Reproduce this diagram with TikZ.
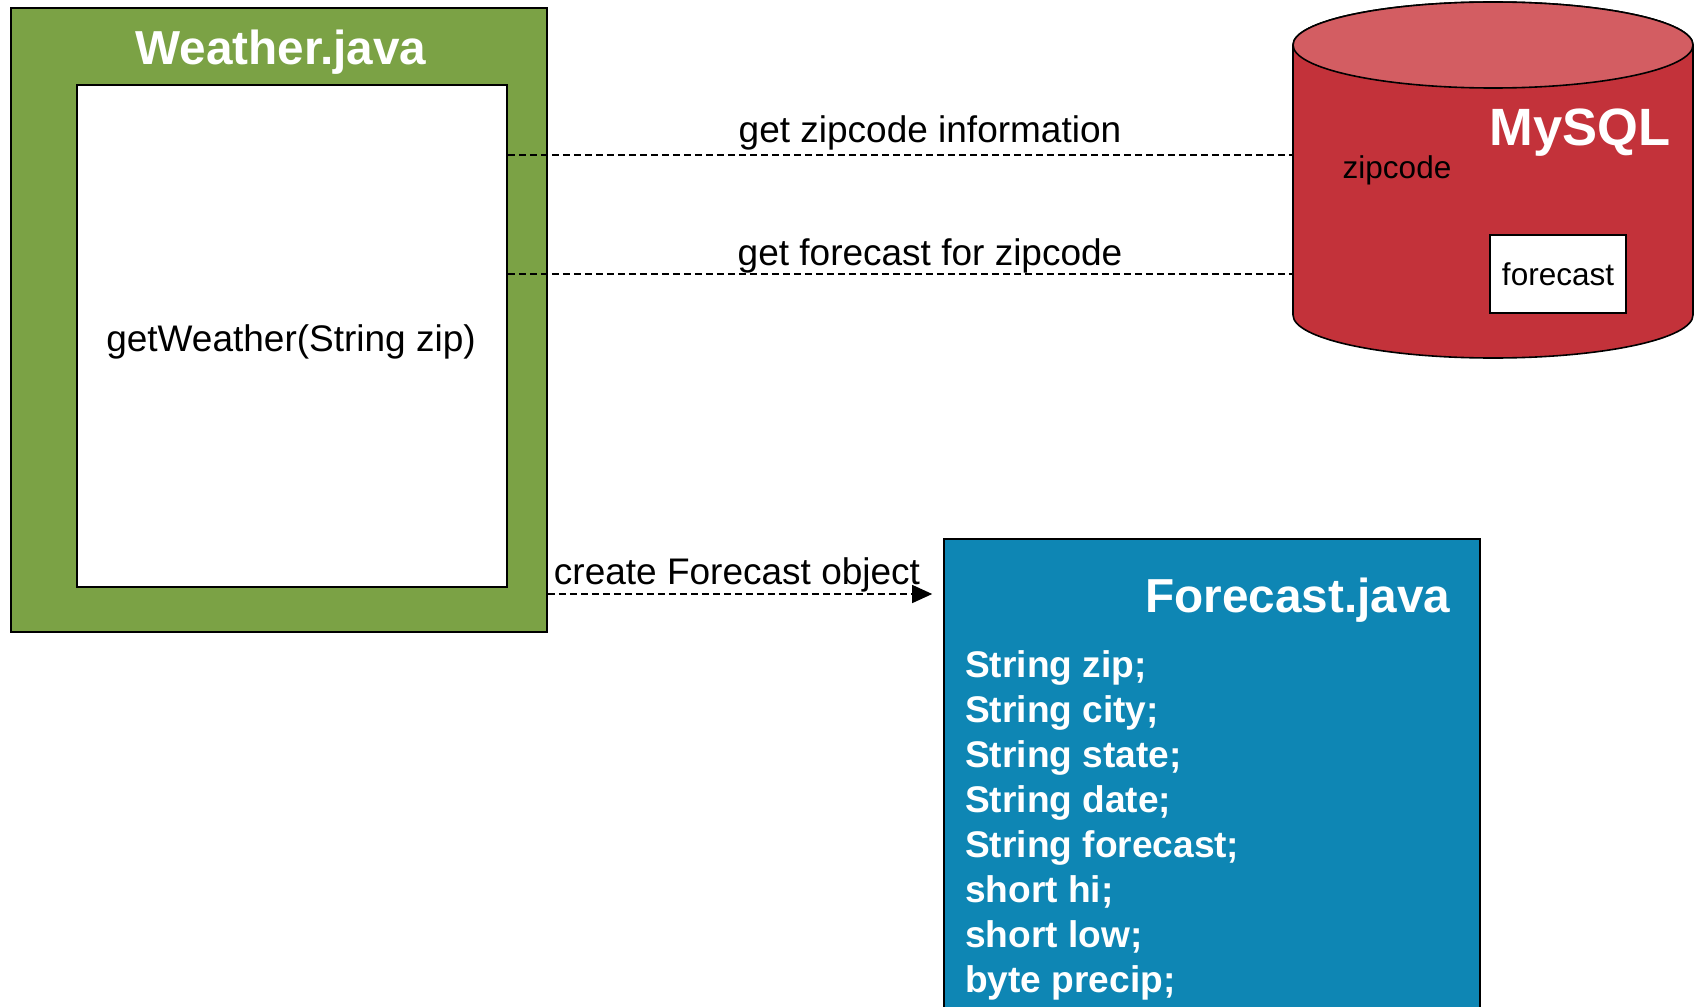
\documentclass[tikz,border=0pt]{standalone}
\usepackage{fontspec}
\setmainfont{Liberation Sans}
\usetikzlibrary{arrows.meta}
\definecolor{javagreen}{RGB}{123,162,69}
\definecolor{dbred}{RGB}{195,50,58}
\definecolor{dbtop}{RGB}{211,93,98}
\definecolor{javablue}{RGB}{14,134,180}

\begin{document}
\begin{tikzpicture}[
    x=1pt, y=1pt,
    classbox/.style={rectangle, draw, line width=1.6pt, inner sep=0pt},
    classtitle/.style={text=white, font=\fontsize{47.7}{57}\selectfont\bfseries},
    msg/.style={font=\fontsize{37}{44}\selectfont},
    field/.style={anchor=base west, text=white, inner sep=0pt, font=\fontsize{37.1}{45}\selectfont\bfseries},
    dbtext/.style={font=\fontsize{31.5}{38}\selectfont},
    call/.style={dash pattern=on 7pt off 4pt, line width=1.3pt},
    arrow/.style={call, -{Triangle[length=20pt, width=18pt]}}
]

% page
\clip (0,0) rectangle (1696,-1006);

% Weather.java
\node[classbox, fill=javagreen, minimum width=536pt, minimum height=624pt] (weather) at (279,-320) {};
\node[classtitle] (wtitle) at (281,-52.5) {Weather.java};
\node[classbox, fill=white, minimum width=430pt, minimum height=502pt] (wbody) at (292,-336) {};
\node[msg] (wcall) at (291,-342) {getWeather(String zip)};

% MySQL cylinder
\draw[line width=1.6pt, fill=dbred] (1293,-45) -- (1293,-315)
    arc[start angle=180, end angle=360, x radius=200pt, y radius=43pt] -- (1693,-45)
    arc[start angle=0, end angle=180, x radius=200pt, y radius=43pt] -- cycle;
\draw[line width=1.6pt, fill=dbtop] (1493,-45) ellipse [x radius=200pt, y radius=43pt];
\coordinate (dbzip) at (1293,-155);
\coordinate (dbfc) at (1293,-274);

\node[text=white, font=\fontsize{52.5}{63}\selectfont\bfseries] (mysql) at (1580,-133) {MySQL};
\node[dbtext] (zipcode) at (1397,-170) {zipcode};
\node[classbox, fill=white, dbtext, line width=1.4pt, minimum width=136pt, minimum height=78pt] (fcbox) at (1558,-274) {forecast};

% Forecast.java
\node[classbox, fill=javablue, minimum width=536pt, minimum height=500pt] (forecast) at (1212,-789) {};
\node[classtitle] (ftitle) at (1298,-600) {Forecast.java};
\foreach \f [count=\i from 0] in {String zip;, String city;, String state;, String date;, String forecast;, short hi;, short low;, byte precip;}
    \node[field] (field\i) at (965,-677-45*\i) {\f};

% Calls
\node[msg] (ask1) at (930,-132.5) {get zipcode information};
\node[msg] (ask2) at (930,-255.5) {get forecast for zipcode};
\node[msg] (ask3) at (737,-574.5) {create Forecast object};

\draw[call] (wbody.east |- dbzip) -- (dbzip);
\draw[call] (wbody.east |- dbfc) -- (dbfc);
\coordinate (mk) at (0,-594);
\draw[arrow, shorten >=11pt] (weather.east |- mk) -- (forecast.west |- mk);

\end{tikzpicture}
\end{document}
